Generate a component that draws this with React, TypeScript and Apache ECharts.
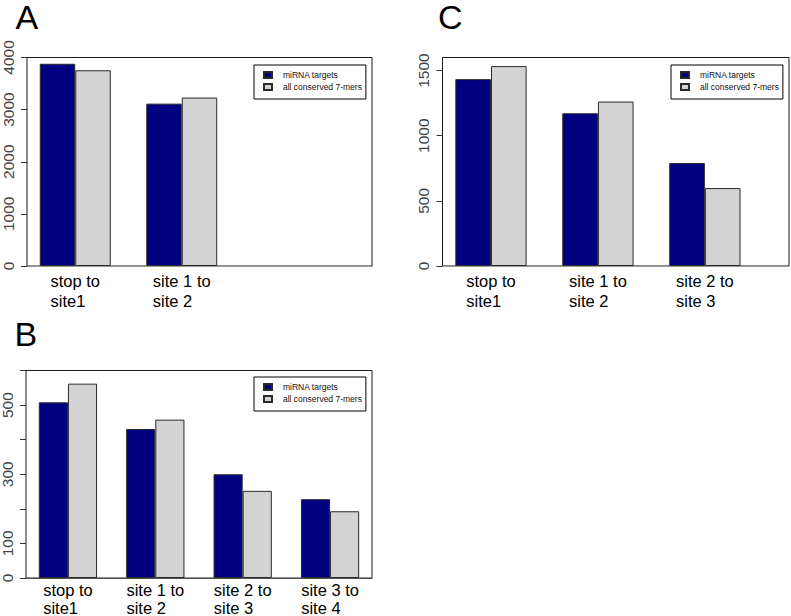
import React, { useEffect, useRef } from 'react';
import * as echarts from 'echarts';

// ---- data ----
const seriesNames = ['miRNA targets', 'all conserved 7-mers'];

const categoriesA = ['stop to\nsite1', 'site 1 to\nsite 2'];
const mirnaA = [3880, 3115];
const conservedA = [3755, 3232];
const yTicksA = [0, 1000, 2000, 3000, 4000];
const yLabelsA = [0, 1000, 2000, 3000, 4000];

const categoriesB = ['stop to\nsite1', 'site 1 to\nsite 2', 'site 2 to\nsite 3', 'site 3 to\nsite 4'];
const mirnaB = [508, 431, 300, 228];
const conservedB = [562, 458, 252, 193];
const yTicksB = [0, 100, 200, 300, 400, 500, 600];
const yLabelsB = [0, 100, 300, 500];

const categoriesC = ['stop to\nsite1', 'site 1 to\nsite 2', 'site 2 to\nsite 3'];
const mirnaC = [1434, 1172, 790];
const conservedC = [1534, 1262, 598];
const yTicksC = [0, 500, 1000, 1500];
const yLabelsC = [0, 500, 1000, 1500];

const FONT = '"Liberation Sans", Arial, sans-serif';
const BLUE = '#000080';
const GRAY = '#d3d3d3';

// R barplot (beside=TRUE, space=c(0,1)) places group i centred at 2 + 3*i
const groupCenter = (i: number) => 2 + 3 * i;

type Panel = {
  letter: string;
  letterPos: { left: number; top: number };
  cats: string[];
  a: number[];
  b: number[];
  yTicks: number[];
  yLabels: number[];
  yMax: number;
  xMin: number;
  xMax: number;
  grid: { left: number; top: number; width: number; height: number };
  legend: { left: number; top: number };
  baseColor: string;
  labelLineHeight: number;
  labelMargin: number;
};

const panels: Panel[] = [
  {
    letter: 'A', letterPos: { left: 15.5, top: 2 },
    cats: categoriesA, a: mirnaA, b: conservedA,
    yTicks: yTicksA, yLabels: yLabelsA, yMax: 4000,
    xMin: 0.64, xMax: 10.36,
    grid: { left: 27, top: 57.5, width: 345, height: 208.5 },
    legend: { left: 254, top: 65 },
    baseColor: '#999999',
    labelLineHeight: 20,
    labelMargin: 5,
  },
  {
    letter: 'B', letterPos: { left: 14.5, top: 319 },
    cats: categoriesB, a: mirnaB, b: conservedB,
    yTicks: yTicksB, yLabels: yLabelsB, yMax: 600,
    xMin: 0.56, xMax: 12.44,
    grid: { left: 26, top: 370.5, width: 346, height: 207.5 },
    legend: { left: 254, top: 377 },
    baseColor: '#555555',
    labelLineHeight: 18,
    labelMargin: 3,
  },
  {
    letter: 'C', letterPos: { left: 438, top: 2 },
    cats: categoriesC, a: mirnaC, b: conservedC,
    yTicks: yTicksC, yLabels: yLabelsC, yMax: 1600,
    xMin: 0.64, xMax: 10.36,
    grid: { left: 442.5, top: 57.5, width: 346.5, height: 208.5 },
    legend: { left: 671, top: 65 },
    baseColor: '#999999',
    labelLineHeight: 20,
    labelMargin: 5,
  },
];

function buildOption() {
  const title: any[] = [];
  const grid: any[] = [];
  const xAxis: any[] = [];
  const yAxis: any[] = [];
  const legend: any[] = [];
  const series: any[] = [];

  panels.forEach((p, pi) => {
    title.push({
      text: p.letter,
      left: p.letterPos.left,
      top: p.letterPos.top,
      padding: 0,
      textStyle: { fontFamily: FONT, fontSize: 34, lineHeight: 30, fontWeight: 'normal', color: '#000' },
    });
    grid.push({
      left: p.grid.left,
      top: p.grid.top,
      width: p.grid.width,
      height: p.grid.height,
      show: true,
      borderColor: '#1a1a1a',
      borderWidth: 1,
      backgroundColor: 'transparent',
      containLabel: false,
      outerBoundsMode: 'none',
    });
    const centers = p.cats.map((_, i) => groupCenter(i));
    xAxis.push({
      type: 'value',
      gridIndex: pi,
      min: p.xMin,
      max: p.xMax,
      splitLine: { show: false },
      axisTick: { show: false },
      axisLine: { show: true, onZero: false, lineStyle: { color: p.baseColor, width: 1 } },
      axisLabel: {
        show: true,
        customValues: centers,
        margin: p.labelMargin,
        formatter: (v: number) => {
          const idx = centers.findIndex((c) => Math.abs(c - v) < 1e-6);
          if (idx < 0) return '';
          return p.cats[idx].split('\n').map((s) => `{l|${s}}`).join('\n');
        },
        rich: {
          l: { fontFamily: FONT, fontSize: 16.5, lineHeight: p.labelLineHeight, color: '#000', align: 'left' },
        },
      },
    });
    yAxis.push({
      type: 'value',
      gridIndex: pi,
      min: 0,
      max: p.yMax,
      splitLine: { show: false },
      axisLine: { show: false },
      axisTick: {
        show: true,
        length: 6,
        customValues: p.yTicks,
        lineStyle: { color: '#333', width: 1 },
      },
      axisLabel: {
        show: true,
        customValues: p.yLabels,
        rotate: 90,
        margin: 11,
        fontFamily: FONT,
        fontSize: 15.5,
        color: '#444',
        formatter: (v: number) => String(v),
      },
    });
    legend.push({
      show: true,
      left: p.legend.left,
      top: p.legend.top,
      orient: 'vertical',
      data: seriesNames,
      icon: 'rect',
      itemWidth: 8,
      itemHeight: 6,
      itemGap: 2,
      padding: [5, 4, 7, 9],
      borderColor: '#000',
      borderWidth: 1,
      backgroundColor: '#fff',
      selectedMode: false,
      textStyle: {
        fontFamily: FONT,
        fontSize: 8.5,
        lineHeight: 10,
        color: '#111',
        padding: [0, 0, 0, 6],
      },
    });
    const mk = (name: string, vals: number[], color: string) => ({
      type: 'bar',
      name,
      xAxisIndex: pi,
      yAxisIndex: pi,
      barWidth: '33.3333%',
      barGap: '0%',
      data: vals.map((v, i) => [centers[i], v]),
      itemStyle: { color, borderColor: '#2a2a2a', borderWidth: 1 },
      emphasis: { disabled: true },
    });
    series.push(mk(seriesNames[0], p.a, BLUE));
    series.push(mk(seriesNames[1], p.b, GRAY));
  });

  return {
    animation: false,
    backgroundColor: '#ffffff',
    textStyle: { fontFamily: FONT },
    title,
    grid,
    xAxis,
    yAxis,
    legend,
    tooltip: { show: false },
    series,
  };
}

export default function App() {
  const ref = useRef<HTMLDivElement>(null);
  useEffect(() => {
    document.body.style.margin = '0';
    if (!ref.current) return;
    const chart = echarts.init(ref.current, undefined, { renderer: 'svg' });
    chart.setOption(buildOption() as any);
    return () => chart.dispose();
  }, []);
  return <div ref={ref} style={{ width: 791, height: 616, background: '#fff' }} />;
}
